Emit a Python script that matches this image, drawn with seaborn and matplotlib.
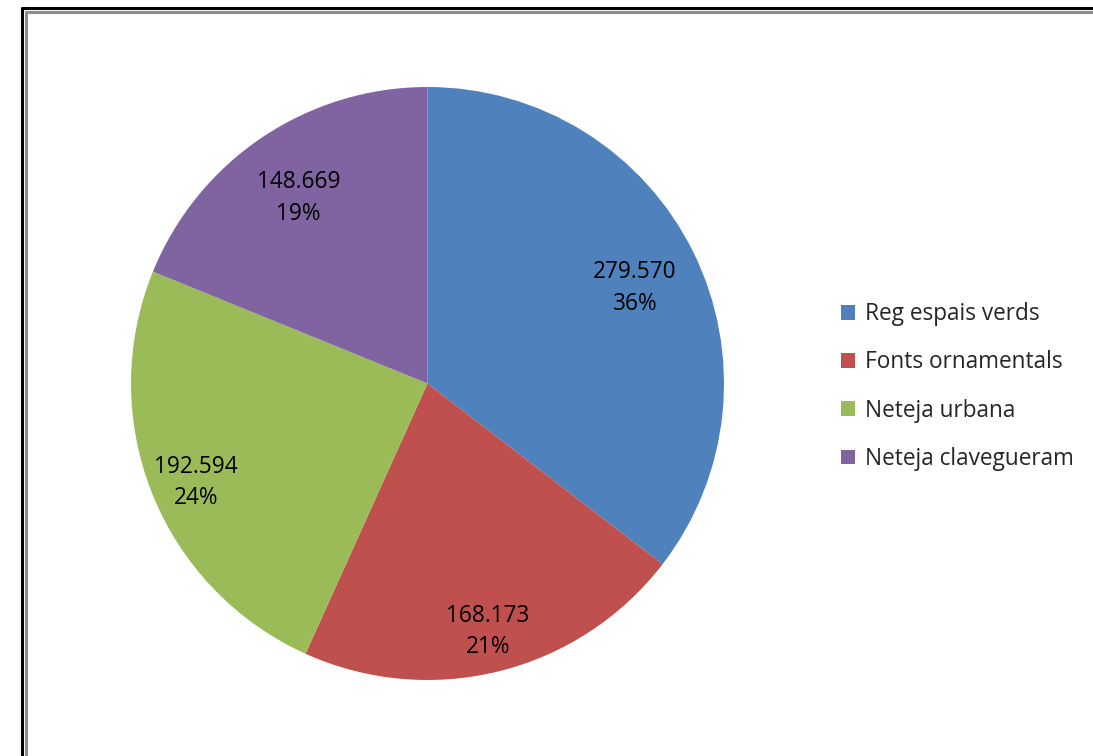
import matplotlib
matplotlib.use("Agg")
import matplotlib.pyplot as plt
from matplotlib.lines import Line2D
import numpy as np
import seaborn as sns

# Water consumption by municipal use
categories = ["Reg espais verds", "Fonts ornamentals", "Neteja urbana", "Neteja clavegueram"]
values = [279570, 168173, 192594, 148669]
value_labels = ["279.570", "168.173", "192.594", "148.669"]
pct_labels = ["36%", "21%", "24%", "19%"]
colors = ["#4F81BD", "#C0504D", "#9BBB59", "#8064A2"]

sns.set_theme(style="white")
plt.rcParams["font.family"] = ["Open Sans", "DejaVu Sans"]

W, H = 1093, 756
fig = plt.figure(figsize=(W / 100, H / 100), dpi=100)
fig.patch.set_facecolor("white")

# Pie centred at (427.5, 383.5) px with radius 296.5 px
cx, cy, r = 427.5, 383.5, 296.5
ax = fig.add_axes([(cx - r) / W, (H - cy - r) / H, 2 * r / W, 2 * r / H])
palette = sns.color_palette(colors)
wedges, _ = ax.pie(values, colors=palette, startangle=90, counterclock=False,
                   radius=1.0, wedgeprops=dict(linewidth=0))
ax.set_xlim(-1, 1)
ax.set_ylim(-1, 1)
ax.set_aspect("equal")
ax.axis("off")

# Data labels placed along each wedge's bisector
label_dist = [0.78, 0.84, 0.84, 0.78]
for w, vl, pl, d in zip(wedges, value_labels, pct_labels, label_dist):
    ang = np.deg2rad((w.theta1 + w.theta2) / 2)
    x, y = d * np.cos(ang), d * np.sin(ang) - 0.022
    ax.text(x, y, f"{vl}\n{pl}", ha="center", va="center", fontsize=16.3,
            color="black", linespacing=1.42)

leg = fig.legend(wedges, categories, loc="center left",
                 bbox_to_anchor=(841 / W, 1 - 386.5 / H), frameon=False,
                 fontsize=16.3, handlelength=0.62, handleheight=0.62,
                 handletextpad=0.42, labelspacing=1.07, borderpad=0,
                 borderaxespad=0)

# Double frame: outer black line and inner grey line
fig.add_artist(Line2D([22 / W, 22 / W], [0, 1 - 8 / H], color="black", lw=2.2,
                      transform=fig.transFigure))
fig.add_artist(Line2D([22 / W, 1], [1 - 8 / H, 1 - 8 / H], color="black", lw=2.2,
                      transform=fig.transFigure))
fig.add_artist(Line2D([26 / W, 26 / W], [0, 1 - 12 / H], color="#8C8C8C", lw=2.2,
                      transform=fig.transFigure))
fig.add_artist(Line2D([26 / W, 1], [1 - 12 / H, 1 - 12 / H], color="#8C8C8C", lw=2.2,
                      transform=fig.transFigure))

fig.savefig("out.png", dpi=100, facecolor="white")
